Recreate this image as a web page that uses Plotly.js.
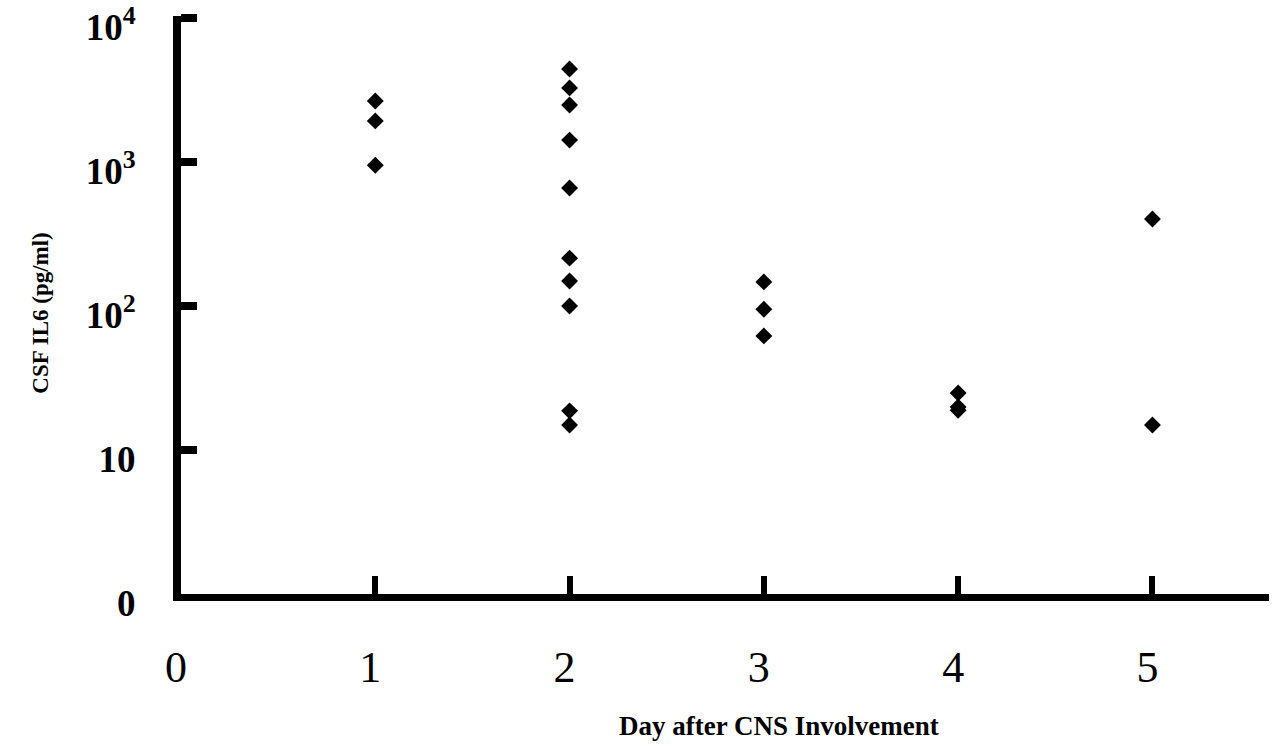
<!DOCTYPE html>
<html>
<head>
<meta charset="utf-8">
<script src="https://cdn.plot.ly/plotly-3.0.1.min.js"></script>
<style>html,body{margin:0;padding:0;background:#fff;}#chart{width:1281px;height:751px;}</style>
</head>
<body>
<div id="chart"></div>
<script>
// Data
var day1 = [2650, 1930, 950];
var day2 = [4420, 3270, 2490, 1420, 660, 215, 149, 100, 18.7, 14.9];
var day3 = [147, 95, 62];
var day4 = [24.9, 19.9, 18.9];
var day5 = [402, 14.9];
var days = [1, 2, 3, 4, 5];
var xTickVals = [0, 1, 2, 3, 4, 5];
var xTickText = ['0', '1', '2', '3', '4', '5'];
var yTickVals = [1, 10, 100, 1000, 10000];
var yTickText = ['0', '10', '10<sup>2</sup>', '10<sup>3</sup>', '10<sup>4</sup>'];
var xTitle = 'Day after CNS Involvement';
var yTitle = 'CSF IL6 (pg/ml)';

var groups = [day1, day2, day3, day4, day5];
var xs = [], ys = [];
groups.forEach(function (g, i) {
  g.forEach(function (v) { xs.push(days[i]); ys.push(v); });
});

var trace = {
  x: xs, y: ys, type: 'scatter', mode: 'markers',
  marker: {symbol: 'diamond', size: 13, color: '#000'},
  hoverinfo: 'x+y', cliponaxis: false
};

var serif = '"Liberation Serif", "Times New Roman", serif';
var layout = {
  width: 1281, height: 751,
  margin: {l: 181, r: 12, t: 16, b: 157},
  paper_bgcolor: '#fff', plot_bgcolor: '#fff',
  showlegend: false,
  xaxis: {
    range: [0, 5.6],
    tickvals: xTickVals, ticktext: xTickText,
    ticks: 'inside', ticklen: 18, tickwidth: 6, tickcolor: '#000',
    showline: true, linewidth: 7, linecolor: '#000',
    showgrid: false, zeroline: false,
    tickfont: {family: serif, size: 44, color: '#000'},
    ticklabelstandoff: 28, ticklabelshift: -5, ticklabeloverflow: 'allow'
  },
  yaxis: {
    type: 'log', range: [0, 4.014],
    tickvals: yTickVals, ticktext: yTickText,
    ticks: 'inside', ticklen: 16, tickwidth: 8, tickcolor: '#000',
    showline: true, linewidth: 8, linecolor: '#000',
    showgrid: false, zeroline: false,
    tickfont: {family: serif, size: 37, color: '#000', weight: 'bold'},
    ticklabelstandoff: 30, ticklabelshift: 9, ticklabeloverflow: 'allow'
  },
  annotations: [{
    text: '<b>' + xTitle + '</b>', xref: 'paper', yref: 'paper',
    x: 0.55, y: 0, yshift: -132, xanchor: 'center', yanchor: 'middle',
    showarrow: false, font: {family: serif, size: 27, color: '#000'}
  }, {
    text: '<b>' + yTitle + '</b>', xref: 'paper', yref: 'paper', textangle: -90,
    x: 0, xshift: -140, y: 0.485, xanchor: 'center', yanchor: 'middle',
    showarrow: false, font: {family: serif, size: 23, color: '#000'}
  }]
};

Plotly.newPlot('chart', [trace], layout, {displayModeBar: false, staticPlot: true});
</script>
</body>
</html>
